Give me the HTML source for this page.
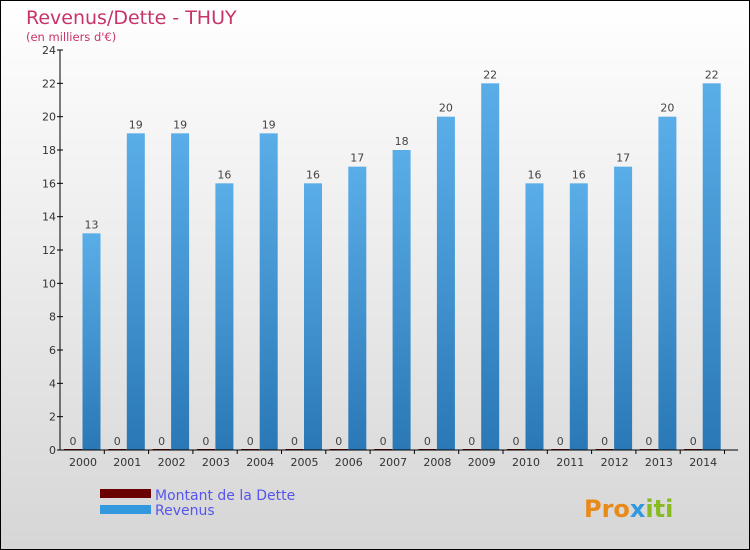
<!DOCTYPE html>
<html><head><meta charset="utf-8"><style>
body{margin:0}
#c{width:750px;height:550px;position:relative;box-sizing:border-box;border:1px solid #000;background:linear-gradient(#ffffff,#d6d6d6);font-family:"DejaVu Sans","Liberation Sans",sans-serif;overflow:hidden}
</style></head><body>
<div id="c">
<svg width="748" height="548" id="s">
<defs>
<linearGradient id="gb" x1="0" y1="0" x2="0" y2="1"><stop offset="0" stop-color="#5aaee8"/><stop offset="1" stop-color="#2a78b6"/></linearGradient>
</defs>
<text x="25" y="23" font-size="19" fill="#c8336a">Revenus/Dette - THUY</text>
<text x="25" y="40" font-size="11.5" fill="#c8336a">(en milliers d'€)</text>
<g id="g"></g>
<rect x="99" y="488" width="51" height="9" fill="#6b0000"/>
<text x="154" y="499" font-size="14" fill="#5555ee">Montant de la Dette</text>
<rect x="99" y="504" width="51" height="9" fill="#3398dd"/>
<text x="154" y="514" font-size="14" fill="#5555ee">Revenus</text>
<text x="583" y="516" font-size="24" font-weight="bold" fill="#e88a1a">Pro<tspan fill="#3399dd">x</tspan><tspan fill="#88bb22">iti</tspan></text>
</svg>
</div>
<script>
const years=["2000","2001","2002","2003","2004","2005","2006","2007","2008","2009","2010","2011","2012","2013","2014"];
const dette=[0,0,0,0,0,0,0,0,0,0,0,0,0,0,0];
const revenus=[13,19,19,16,19,16,17,18,20,22,16,16,17,20,22];
const ticks=[0,2,4,6,8,10,12,14,16,18,20,22,24];
const NS="http://www.w3.org/2000/svg";
const g=document.getElementById('g');
const x0=59,gw=44.3,yb=449,ymax=24,ph=400;
const y=v=>yb-v/ymax*ph;
function el(t,a,txt){const e=document.createElementNS(NS,t);for(const k in a)e.setAttribute(k,a[k]);if(txt!==undefined)e.textContent=txt;g.appendChild(e);return e;}
ticks.forEach(t=>{
 const l=el('line',{x1:x0-3,x2:x0+3,y1:y(t),y2:y(t),stroke:'#000'});
 
 const tx=el('text',{x:x0-4,y:y(t)+4,'font-size':11,'text-anchor':'end',fill:'#333'},t);
 
});
years.forEach((yr,i)=>{
 const gx=x0+i*gw;
 const d=el('rect',{x:gx+4,y:y(dette[i])-1,width:18,height:Math.max(1,yb-y(dette[i])),fill:'#6b0000'});
 
 const dl=el('text',{x:gx+13,y:y(dette[i])-5,'font-size':11,'text-anchor':'middle',fill:'#444'},dette[i]);
 
 const r=el('rect',{x:gx+22.5,y:y(revenus[i]),width:18,height:yb-y(revenus[i]),fill:'url(#gb)'});
 
 const rl=el('text',{x:gx+31.5,y:y(revenus[i])-5,'font-size':11,'text-anchor':'middle',fill:'#444'},revenus[i]);
 
 const tk=el('line',{x1:gx+gw,x2:gx+gw,y1:yb,y2:yb+4,stroke:'#000'});
 
 const xl=el('text',{x:gx+23,y:yb+16,'font-size':11,'text-anchor':'middle',fill:'#333'},yr);
 
});
const ya=el('line',{x1:x0,x2:x0,y1:y(24),y2:yb,stroke:'#000'});

const xa=el('line',{x1:x0,x2:737,y1:yb,y2:yb,stroke:'#000'});

</script>
</body></html>
